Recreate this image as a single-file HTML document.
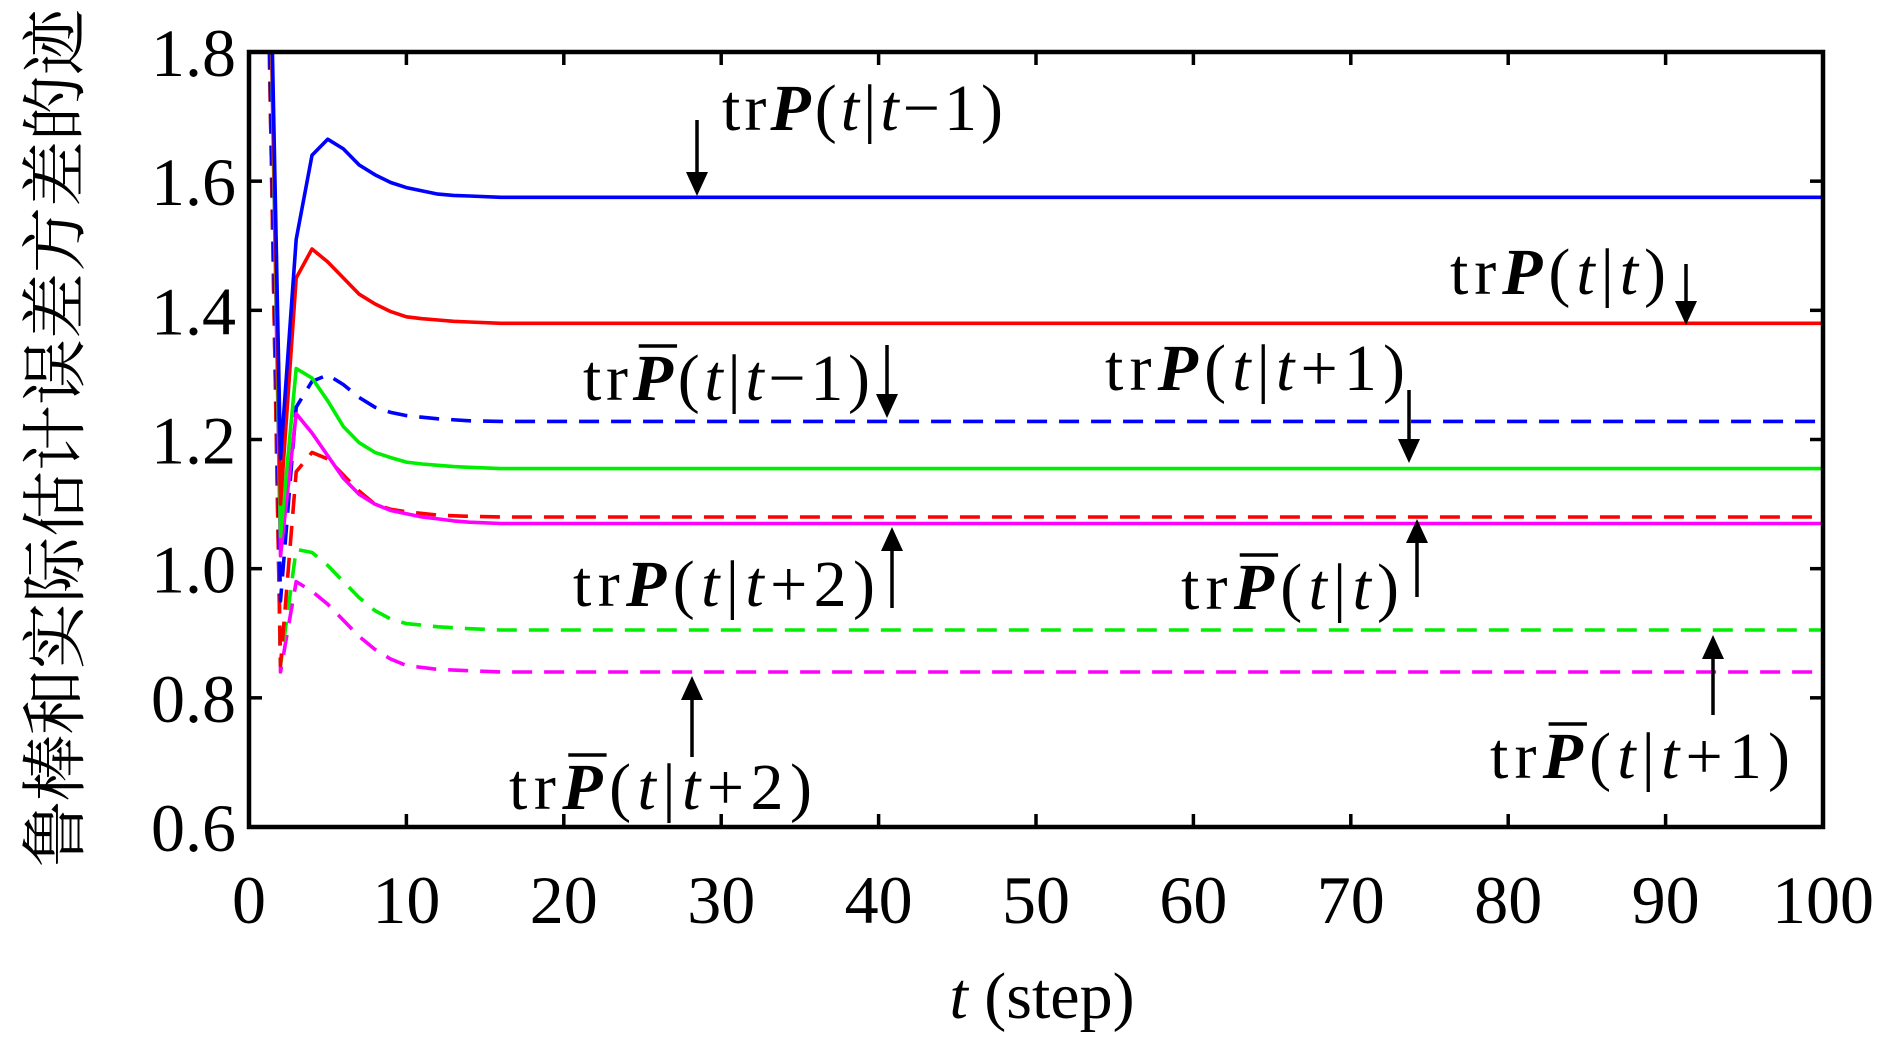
<!DOCTYPE html>
<html><head><meta charset="utf-8"><style>
html,body{margin:0;padding:0;background:#fff;}
svg{display:block;}
text{font-family:"Liberation Serif","Noto Serif CJK SC",serif;fill:#000;}
</style></head><body>
<svg id="chart" width="1890" height="1039" viewBox="0 0 1890 1039" xmlns="http://www.w3.org/2000/svg">
<g id="plot"></g>
</svg>
<script>
// ---- data ----
const xTicks = [0,10,20,30,40,50,60,70,80,90,100];
const yTicks = [0.6,0.8,1.0,1.2,1.4,1.6,1.8];
const yTickLabels = ["0.6","0.8","1.0","1.2","1.4","1.6","1.8"];
const tSolid = [1,2,3,4,5,6,7,8,9,10,11,12,13,14,16,100];
const blueSolid    = [2.4,1.17,1.51,1.64,1.665,1.65,1.625,1.61,1.598,1.59,1.585,1.58,1.578,1.577,1.575,1.575];
const redSolid     = [2.4,1.10,1.45,1.495,1.475,1.45,1.425,1.41,1.398,1.39,1.387,1.385,1.383,1.382,1.38,1.38];
const greenSolid   = [2.4,1.05,1.31,1.295,1.26,1.22,1.195,1.18,1.172,1.165,1.162,1.16,1.158,1.157,1.155,1.155];
const magentaSolid = [2.4,1.02,1.24,1.21,1.175,1.14,1.115,1.10,1.09,1.085,1.08,1.077,1.074,1.072,1.07,1.07];
const tDash = [1,2,3,4,5,6,7,8,9,10,12,14,16,100];
const blueDash    = [2.2,0.95,1.25,1.29,1.30,1.285,1.265,1.25,1.242,1.237,1.232,1.229,1.228,1.228];
const redDash     = [2.2,0.85,1.15,1.18,1.17,1.145,1.12,1.10,1.092,1.088,1.083,1.081,1.08,1.08];
const greenDash   = [2.2,0.85,1.03,1.025,1.005,0.98,0.955,0.935,0.922,0.915,0.91,0.907,0.905,0.905];
const magentaDash = [2.2,0.84,0.98,0.965,0.945,0.92,0.895,0.875,0.86,0.85,0.844,0.842,0.84,0.84];

const X0=249, X1=1823, Y0=827, Y1=52;
const xs = v => X0 + (v-0)/(100-0)*(X1-X0);
const ys = v => Y0 - (v-0.6)/(1.8-0.6)*(Y0-Y1);
const NS="http://www.w3.org/2000/svg";
const svg=document.getElementById('chart');
const plot=document.getElementById('plot');
function mk(tag,attrs,parent){const e=document.createElementNS(NS,tag);for(const k in attrs)e.setAttribute(k,attrs[k]);(parent||svg).appendChild(e);return e;}

const defs=mk('defs',{});
const cp=mk('clipPath',{id:'clip'},defs);
mk('rect',{x:X0,y:Y1,width:X1-X0,height:Y0-Y1},cp);
const g=mk('g',{'clip-path':'url(#clip)'},plot);

function series(ts,vals,color,dashed,name){
  const d=ts.map((t,i)=>(i?'L':'M')+xs(t).toFixed(1)+' '+ys(vals[i]).toFixed(1)).join(' ');
  const p=mk('path',{d:d,fill:'none',stroke:color,'stroke-width':3.6,'stroke-linejoin':'round'},g);
  if(dashed)p.setAttribute('stroke-dasharray','20 12');
  
  
}
series(tDash,magentaDash,'#ff00ff',true,'series-pbar-t-t2');
series(tDash,greenDash,'#00ee00',true,'series-pbar-t-t1');
series(tDash,redDash,'#ff0000',true,'series-pbar-t-t');
series(tDash,blueDash,'#0000ff',true,'series-pbar-t-tm1');
series(tSolid,magentaSolid,'#ff00ff',false,'series-p-t-t2');
series(tSolid,greenSolid,'#00ee00',false,'series-p-t-t1');
series(tSolid,redSolid,'#ff0000',false,'series-p-t-t');
series(tSolid,blueSolid,'#0000ff',false,'series-p-t-tm1');

const box=mk('rect',{x:X0,y:Y1,width:X1-X0,height:Y0-Y1,fill:'none',stroke:'#000','stroke-width':4.5},plot);


xTicks.forEach(v=>{
  const x=xs(v);
  mk('line',{x1:x,y1:Y0,x2:x,y2:Y0-13,stroke:'#000','stroke-width':3.5},plot);
  mk('line',{x1:x,y1:Y1,x2:x,y2:Y1+13,stroke:'#000','stroke-width':3.5},plot);
  const t=mk('text',{x:x,y:923,'font-size':68,'text-anchor':'middle'},plot);
  t.textContent=String(v);
  
  
});
yTicks.forEach((v,i)=>{
  const y=ys(v);
  mk('line',{x1:X0,y1:y,x2:X0+13,y2:y,stroke:'#000','stroke-width':3.5},plot);
  mk('line',{x1:X1,y1:y,x2:X1-13,y2:y,stroke:'#000','stroke-width':3.5},plot);
  const t=mk('text',{x:236,y:y+24,'font-size':68,'text-anchor':'end'},plot);
  t.textContent=yTickLabels[i];
  
  
});
const xt=mk('text',{x:1042,y:1018,'font-size':66,'text-anchor':'middle'});
xt.innerHTML='<tspan font-style="italic">t</tspan> (step)';


const yt=mk('text',{x:0,y:0,'font-size':66,'text-anchor':'middle',transform:'translate(78,438) rotate(-90)'});
yt.textContent='鲁棒和实际估计误差方差的迹';



function label(x,y,w,bar,suffix,name){
  const t=mk('text',{x:x,y:y,'font-size':66,textLength:w,lengthAdjust:'spacing'});
  t.innerHTML='tr<tspan font-weight="bold" font-style="italic">P</tspan>(<tspan font-style="italic">t</tspan>|<tspan font-style="italic">t</tspan>'+suffix+')';
  
  
  if(bar){
    let a=x+w*0.205,b=x+w*0.33;
    try{const s=t.getStartPositionOfChar(2).x,e=t.getEndPositionOfChar(2).x;a=s+6;b=e+4;}catch(err){}
    mk('line',{x1:a,y1:y-54,x2:b,y2:y-54,stroke:'#000','stroke-width':3.5});
  }
}
function arrow(x,y1,y2,name){
  const dir=y2>y1?1:-1;
  mk('line',{x1:x,y1:y1,x2:x,y2:y2-dir*16,stroke:'#000','stroke-width':3.5});
  const a=mk('polygon',{points:`${x-11},${y2-dir*24} ${x+11},${y2-dir*24} ${x},${y2}`,fill:'#000'});
  
  
}
label(722,130,281,false,'−1','label-p-t-tm1'); arrow(697,120,196,'arrow-p-t-tm1');
label(1450,294,216,false,'','label-p-t-t'); arrow(1686,264,325,'arrow-p-t-t');
label(583,400,287,true,'−1','label-pbar-t-tm1'); arrow(887,345,418,'arrow-pbar-t-tm1');
label(1105,390,300,false,'+1','label-p-t-t1'); arrow(1409,390,463,'arrow-p-t-t1');
label(573,606,302,false,'+2','label-p-t-t2'); arrow(892,608,527,'arrow-p-t-t2');
label(1181,609,218,true,'','label-pbar-t-t'); arrow(1417,597,519,'arrow-pbar-t-t');
label(509,809,303,true,'+2','label-pbar-t-t2'); arrow(692,757,676,'arrow-pbar-t-t2');
label(1490,778,300,true,'+1','label-pbar-t-t1'); arrow(1713,715,635,'arrow-pbar-t-t1');
</script>
</body></html>
